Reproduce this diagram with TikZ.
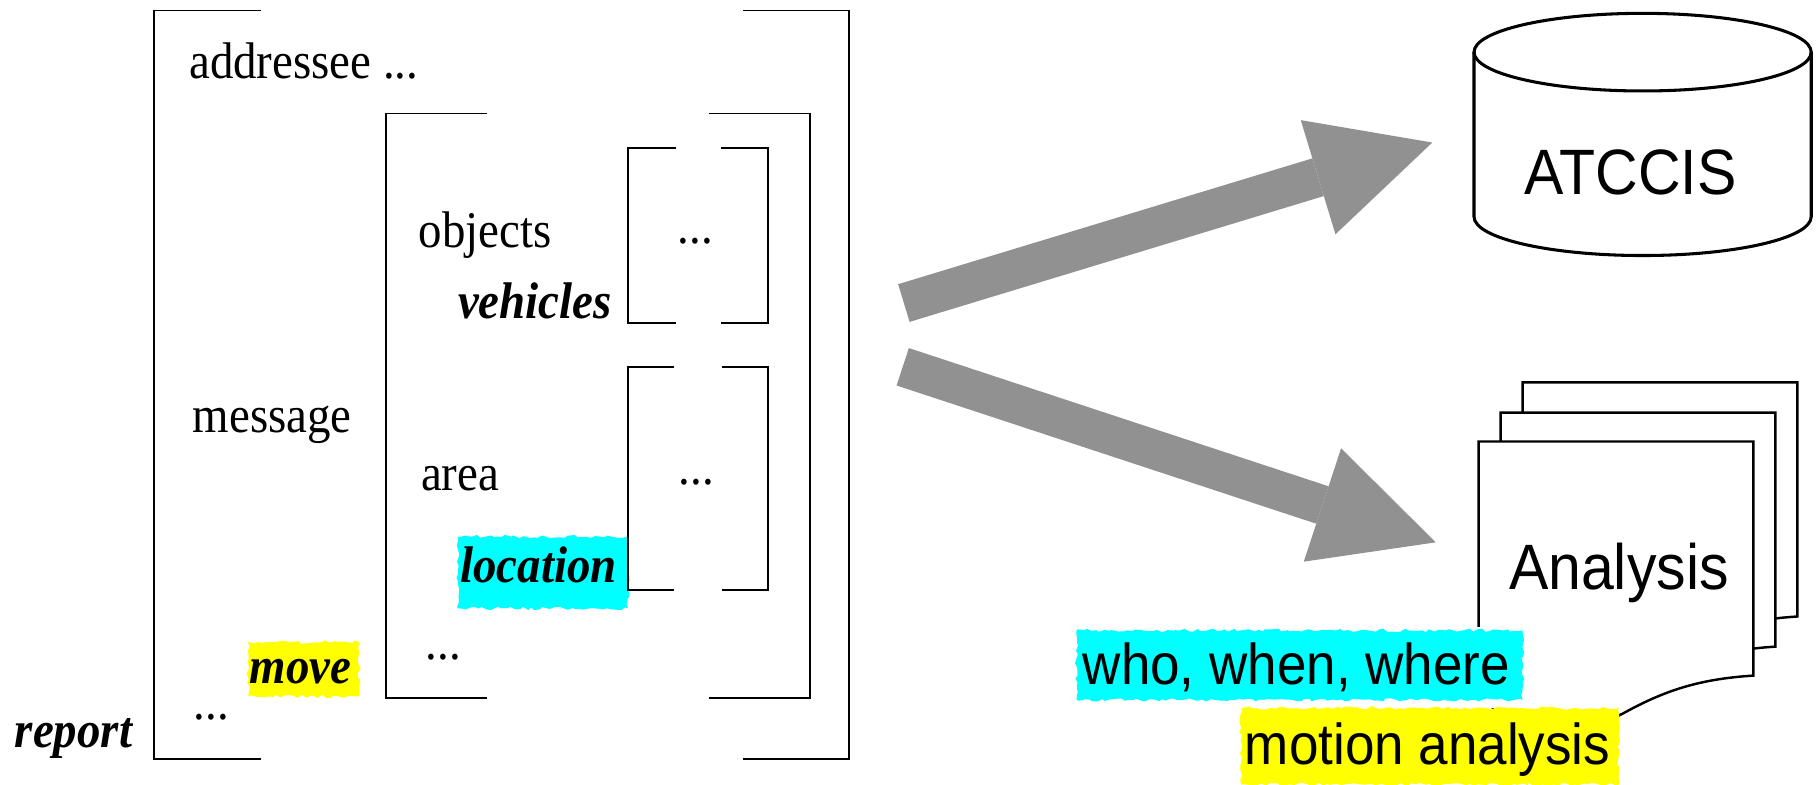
\documentclass[tikz,border=0pt]{standalone}
\usepackage{fontspec}
\setmainfont{Liberation Serif}[FakeStretch=0.91]
\newfontfamily\slidefont{Liberation Sans}[FakeStretch=0.92]
\usetikzlibrary{arrows.meta,decorations.pathmorphing}
\definecolor{arrowgray}{RGB}{145,145,145}
\definecolor{hlcyan}{RGB}{0,255,255}
\definecolor{hlyellow}{RGB}{255,255,0}
\begin{document}
\begin{tikzpicture}[x=0.02cm, y=-0.02cm,
  attr/.style={anchor=base west, inner sep=0pt, font=\fontsize{25.3}{30}\selectfont},
  ftype/.style={attr, font=\fontsize{25.3}{30}\selectfont\bfseries\itshape},
  slide/.style={anchor=base, inner sep=0pt, font=\fontsize{31.5}{37}\slidefont},
  note/.style={anchor=base west, inner sep=0pt, font=\fontsize{28.3}{33}\slidefont},
  brk/.style={line width=0.9pt},
  drum/.style={line width=1.5pt},
  page/.style={line width=1.2pt, fill=white},
  hl/.style={fill=#1, decorate, decoration={random steps, segment length=2pt, amplitude=0.8pt}},
  bigarrow/.style={draw=arrowgray, line width=0.68cm, -{Triangle[length=2.06cm, width=2.06cm, line width=0pt]}}]
\useasboundingbox (0,0) rectangle (1568,677);
\pgfmathsetseed{7}
% highlights behind the feature structure
\path[hl=hlcyan] (395,463) rectangle (542,525);
\path[hl=hlyellow] (214,554) rectangle (310,601);
% brackets: left x / right x / top / bottom / arm
\foreach \l/\r/\t/\b/\a in {133/733/9/655/92, 333/699/98/602/87, 542/663/128/279/41, 542/663/317/509/40}
{
  \draw[brk] (\l+\a,\t) -| (\l,\b) -- (\l+\a,\b);
  \draw[brk] (\r-\a,\t) -| (\r,\b) -- (\r-\a,\b);
}
\node[attr] (addressee) at (163,68) {addressee ...};
\node[attr] (objects) at (361,214) {objects};
\node[ftype] (vehicles) at (395,275) {vehicles};
\node[attr, anchor=base] (objval) at (600,210) {...};
\node[attr] (message) at (166,373) {message};
\node[attr] (area) at (363,423) {area};
\node[attr, anchor=base] (areaval) at (601,418) {...};
\node[ftype] (location) at (397,503) {location};
\node[attr] (restmsg) at (367,569) {...};
\node[ftype] (move) at (215,590) {move};
\node[attr] (restrep) at (167,621) {...};
\node[ftype] (report) at (12.5,645) {report};
% database
\draw[drum] (1272,45) -- (1272,187) arc[start angle=180, end angle=0, x radius=145.5, y radius=33.5] -- (1563,45);
\draw[drum] (1417.5,45) ellipse[x radius=145.5, y radius=33.5];
\node[slide] (atccis) at (1407,168) {ATCCIS};
% stack of pages
\foreach \px/\py in {1314/330, 1295/356, 1276/381}
  \draw[page] (\px,\py) -- (\px+237,\py) -- (\px+237,\py+202)
    .. controls (\px+190,\py+205) and (\px+160,\py+215) .. (\px+124,\py+235)
    .. controls (\px+90,\py+252) and (\px+40,\py+250) .. (\px,\py+222) -- cycle;
\node[slide] (analysis) at (1397,509) {Analysis};
\fill[white] (927,541) rectangle (1316,611);
\path[hl=hlcyan] (929,544) rectangle (1314,604);
\path[hl=hlyellow] (1071,611) rectangle (1397,677);
\node[note] (who) at (934,591) {who, when, where};
\node[note] (motion) at (1074,660) {motion analysis};
% arrows
\coordinate (upfrom) at (780,261.5);
\coordinate (upto) at (1236,123);
\coordinate (downfrom) at (779,316.5);
\coordinate (downto) at (1239,468);
\draw[bigarrow] (upfrom) -- (upto);
\draw[bigarrow] (downfrom) -- (downto);
\end{tikzpicture}
\end{document}
